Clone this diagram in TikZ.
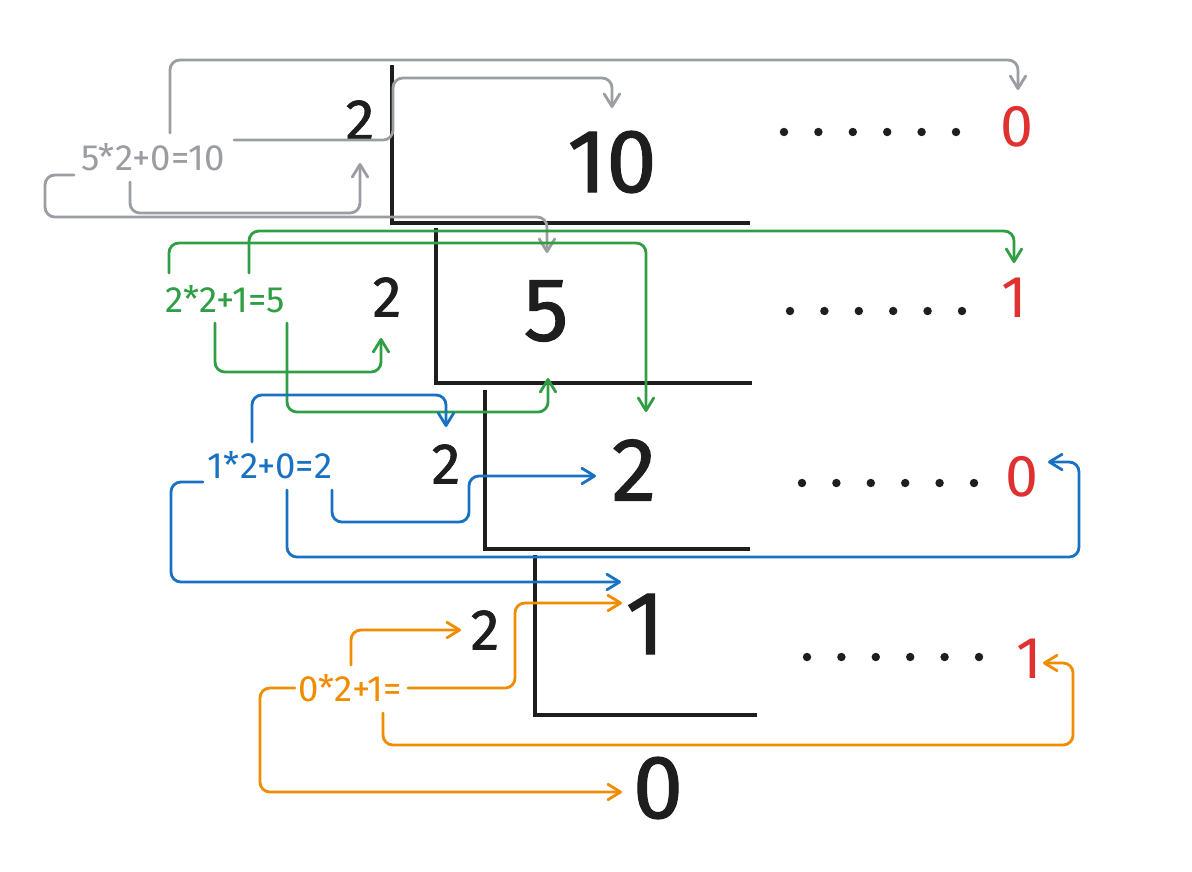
\documentclass[tikz,border=0pt]{standalone}
\usepackage{fontspec}
\setmainfont{Fira Sans}
\newfontfamily\digitfont{Fira Sans}[FakeBold=1.2]
\usepackage{tikz}
\usetikzlibrary{calc,arrows.meta}
\definecolor{mygray}{HTML}{9A9DA2}
\definecolor{mygreen}{HTML}{2F9E44}
\definecolor{myblue}{HTML}{1971C2}
\definecolor{myorange}{HTML}{F08C00}
\definecolor{myred}{HTML}{E03131}
\definecolor{myblack}{HTML}{1E1E1E}

\begin{document}
\begin{tikzpicture}[x=0.025cm,y=-0.025cm,
	big/.style={inner sep=0pt,text=myblack,font=\digitfont\fontsize{64}{64}\selectfont},
	divisor/.style={inner sep=0pt,text=myblack,font=\digitfont\fontsize{41}{41}\selectfont},
	rest/.style={inner sep=0pt,text=myred,font=\fontsize{42}{42}\selectfont},
	lab/.style={inner sep=0pt,font=\fontsize{26}{26}\selectfont},
	conn/.style={line width=2pt,rounded corners=7pt,line cap=round,-{Straight Barb[length=9pt,width=11pt,round]}},
	bar/.style={line width=2.2pt,color=myblack}]
	\useasboundingbox (0,0) rectangle (1192,871);
	% division ladder
	\draw[bar] (392,65) |- (750,223);
	\draw[bar] (436,228) |- (752,383);
	\draw[bar] (485,390) |- (750,549);
	\draw[bar] (535,555) |- (757,715);
	\node[divisor] (d1) at (360,120) {2};
	\node[divisor] (d2) at (387,297) {2};
	\node[divisor] (d3) at (446,464) {2};
	\node[divisor] (d4) at (485,630) {2};
	\node[big] (q0) at (612,162) {10};
	\node[big] (q1) at (546,311) {5};
	\node[big] (q2) at (634,470) {2};
	\node[big] (q3) at (645,624) {1};
	\node[big] (q4) at (658,788) {0};
	% remainders
	\foreach \y/\s in {132/784,311/790,483/802,657/807}
		\foreach \i in {0,...,5}
			\fill[myblack] (\s+34.4*\i,\y) circle (3pt);
	\node[rest] (r1) at (1017,127) {0};
	\node[rest] (r2) at (1014,298) {1};
	\node[rest] (r3) at (1022,477) {0};
	\node[rest] (r4) at (1029,659) {1};
	% back calculation
	\node[lab,text=mygray] (lg) at (153,157) {5*2+0=10};
	\node[lab,text=mygreen] (lgr) at (225,299) {2*2+1=5};
	\node[lab,text=myblue] (lb) at (270,465) {1*2+0=2};
	\node[lab,text=myorange] (lo) at (350,688) {0*2+1=};
	\draw[conn,mygray] ($(lg)+(17,-24)$) -- ++(0,-73) -| ($(r1)+(1,-37)$);
	\draw[conn,mygray] ($(lg)+(81,-17)$) -| ++(159,-62) -| ($(q0)+(0,-54)$);
	\draw[conn,mygray] ($(lg)+(-79,18)$) -| ++(-29,42) -| ($(q1)+(1,-58)$);
	\draw[conn,mygray] ($(lg)+(-23,25)$) -- ++(0,31) -| ($(d1)+(0,43)$);
	\draw[conn,mygreen] ($(lgr)+(-56,-26)$) -- ++(0,-30) -| ($(q2)+(12,-58)$);
	\draw[conn,mygreen] ($(lgr)+(24,-26)$) -- ++(0,-42) -| ($(r2)+(0,-35)$);
	\draw[conn,mygreen] ($(lgr)+(-10,24)$) -- ++(0,49) -| ($(d2)+(-6,41)$);
	\draw[conn,mygreen] ($(lgr)+(62,24)$) -- ++(0,89) -| ($(q1)+(2,67)$);
	\draw[conn,myblue] ($(lb)+(-18,-23)$) -- ++(0,-47) -| ($(d3)+(0,-37)$);
	\draw[conn,myblue] ($(lb)+(-67,17)$) -| ++(-32,100) -- ($(q3)+(-24,-42)$);
	\draw[conn,myblue] ($(lb)+(62,25)$) -- ++(0,32) -| ++(137,-46) -- ($(q2)+(-38,6)$);
	\draw[conn,myblue] ($(lb)+(17,25)$) -- ++(0,67) -| ++(792,-95) -- ($(r3)+(26,-15)$);
	\draw[conn,myorange] ($(lo)+(1,-23)$) |- ($(d4)+(-24,0)$);
	\draw[conn,myorange] ($(lo)+(58,0)$) -| ++(107,-85) -- ($(q3)+(-23,-21)$);
	\draw[conn,myorange] ($(lo)+(-55,0)$) -| ++(-35,104) -- ($(q4)+(-36,4)$);
	\draw[conn,myorange] ($(lo)+(33,25)$) -- ++(0,32) -| ++(690,-82) -- ($(r4)+(14,4)$);
\end{tikzpicture}
\end{document}
